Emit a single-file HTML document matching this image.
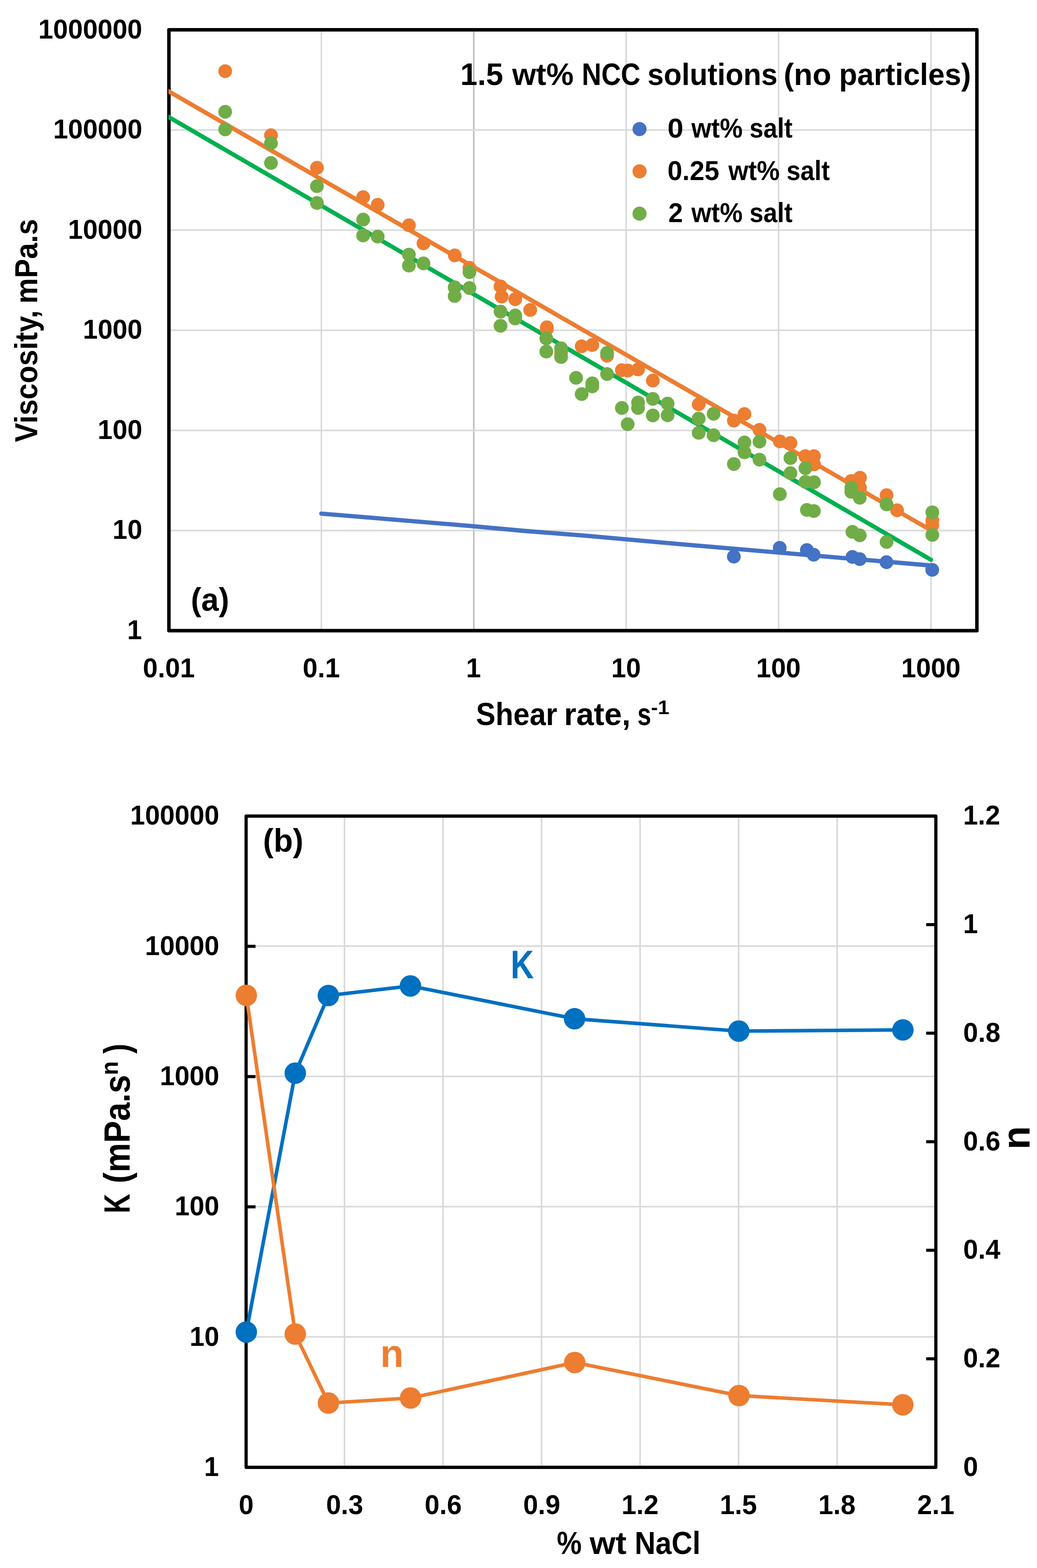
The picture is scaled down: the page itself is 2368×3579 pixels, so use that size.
<!DOCTYPE html>
<html lang="en">
<head>
<meta charset="utf-8">
<title>Viscosity of NCC solutions</title>
<style>
html,body{margin:0;padding:0;background:#fff;}
body{width:2368px;height:3579px;overflow:hidden;}
svg{display:block;}
svg text{font-family:"Liberation Sans", sans-serif;font-weight:700;white-space:pre;}
</style>
</head>
<body>
<svg role="img" aria-label="Viscosity versus shear rate for 1.5 wt% NCC solutions, and power-law parameters K and n versus NaCl concentration" width="2368" height="3579" viewBox="0 0 2368 3579">
<rect width="2368" height="3579" fill="#fff"/>
<g id="chart-a">
<line x1="733.76" y1="68.1" x2="733.76" y2="1439.6" stroke="#D9D9D9" stroke-width="3.5"/>
<line x1="1081.82" y1="68.1" x2="1081.82" y2="1439.6" stroke="#BFBFBF" stroke-width="3.6"/>
<line x1="1429.88" y1="68.1" x2="1429.88" y2="1439.6" stroke="#D9D9D9" stroke-width="3.5"/>
<line x1="1777.94" y1="68.1" x2="1777.94" y2="1439.6" stroke="#D9D9D9" stroke-width="3.5"/>
<line x1="2126.00" y1="68.1" x2="2126.00" y2="1439.6" stroke="#D9D9D9" stroke-width="3.5"/>
<line x1="385.7" y1="296.68" x2="2230.75" y2="296.68" stroke="#D9D9D9" stroke-width="3.5"/>
<line x1="385.7" y1="525.27" x2="2230.75" y2="525.27" stroke="#D9D9D9" stroke-width="3.5"/>
<line x1="385.7" y1="753.85" x2="2230.75" y2="753.85" stroke="#D9D9D9" stroke-width="3.5"/>
<line x1="385.7" y1="982.43" x2="2230.75" y2="982.43" stroke="#D9D9D9" stroke-width="3.5"/>
<line x1="385.7" y1="1211.02" x2="2230.75" y2="1211.02" stroke="#D9D9D9" stroke-width="3.5"/>
<rect x="385.7" y="68.1" width="1845.05" height="1371.50" fill="none" stroke="#000" stroke-width="8" stroke-linejoin="round"/>
<clipPath id="clipA"><rect x="384.6" y="68.1" width="1846.15" height="1371.50"/></clipPath>
<polyline points="733.75,1172.3 1072,1200.3 1200,1212.0 1330,1222.2 1560,1242.6 1880,1269.8 2128.5,1291.0" fill="none" stroke="#4472C4" stroke-width="9.8" stroke-linecap="round" stroke-linejoin="round"/>
<line x1="373.20" y1="201.69" x2="2126.2" y2="1210.6" stroke="#ED7D31" stroke-width="9.8" stroke-linecap="round" clip-path="url(#clipA)"/>
<line x1="373.20" y1="260.03" x2="2126.0" y2="1277.8" stroke="#00B050" stroke-width="9.8" stroke-linecap="round" clip-path="url(#clipA)"/>
<g fill="#4472C4"><circle cx="1675.75" cy="1270.5" r="15.7"/><circle cx="1780.5" cy="1250.5" r="15.7"/><circle cx="1842.5" cy="1255.5" r="15.7"/><circle cx="1858" cy="1266.25" r="15.7"/><circle cx="1946.5" cy="1271.25" r="15.7"/><circle cx="1963.25" cy="1276.25" r="15.7"/><circle cx="2024.25" cy="1283.25" r="15.7"/><circle cx="2128.75" cy="1300.75" r="15.7"/></g>
<g fill="#ED7D31"><circle cx="514.25" cy="162.5" r="15.7"/><circle cx="618.75" cy="308.75" r="15.7"/><circle cx="723.75" cy="383" r="15.7"/><circle cx="829.25" cy="450" r="15.7"/><circle cx="862.5" cy="467.5" r="15.7"/><circle cx="933.75" cy="514.25" r="15.7"/><circle cx="967" cy="555.5" r="15.7"/><circle cx="1038.5" cy="583" r="15.7"/><circle cx="1072" cy="611.25" r="15.7"/><circle cx="1143" cy="653.75" r="15.7"/><circle cx="1145.5" cy="677" r="15.7"/><circle cx="1176.5" cy="683" r="15.7"/><circle cx="1210.75" cy="707.5" r="15.7"/><circle cx="1248.75" cy="747" r="15.7"/><circle cx="1248.75" cy="751" r="15.7"/><circle cx="1281.25" cy="805" r="15.7"/><circle cx="1328.25" cy="790.5" r="15.7"/><circle cx="1352.5" cy="787.5" r="15.7"/><circle cx="1386.25" cy="812" r="15.7"/><circle cx="1420" cy="845" r="15.7"/><circle cx="1433.75" cy="845.75" r="15.7"/><circle cx="1457" cy="843.25" r="15.7"/><circle cx="1490.75" cy="868.75" r="15.7"/><circle cx="1595.5" cy="923" r="15.7"/><circle cx="1675.75" cy="960" r="15.7"/><circle cx="1700" cy="945" r="15.7"/><circle cx="1734.25" cy="981.25" r="15.7"/><circle cx="1780.75" cy="1007.5" r="15.7"/><circle cx="1805" cy="1011.25" r="15.7"/><circle cx="1838.75" cy="1041.25" r="15.7"/><circle cx="1858.75" cy="1041.25" r="15.7"/><circle cx="1858.75" cy="1060" r="15.7"/><circle cx="1943.75" cy="1098" r="15.7"/><circle cx="1963.75" cy="1090.5" r="15.7"/><circle cx="1963.75" cy="1113" r="15.7"/><circle cx="2024.5" cy="1130.25" r="15.7"/><circle cx="2048.5" cy="1164.75" r="15.7"/><circle cx="2129" cy="1187.5" r="15.7"/><circle cx="2129" cy="1198.75" r="15.7"/></g>
<g fill="#70AD47"><circle cx="514.2" cy="255.25" r="15.7"/><circle cx="514.2" cy="295.4" r="15.7"/><circle cx="618.75" cy="327" r="15.7"/><circle cx="618.75" cy="372" r="15.7"/><circle cx="723.75" cy="425" r="15.7"/><circle cx="723.75" cy="463.25" r="15.7"/><circle cx="829.25" cy="501.25" r="15.7"/><circle cx="829.25" cy="537.5" r="15.7"/><circle cx="862.5" cy="540" r="15.7"/><circle cx="933.75" cy="581.25" r="15.7"/><circle cx="933.75" cy="606.25" r="15.7"/><circle cx="967" cy="601.25" r="15.7"/><circle cx="1038.25" cy="655.75" r="15.7"/><circle cx="1038.25" cy="675.75" r="15.7"/><circle cx="1072" cy="621.25" r="15.7"/><circle cx="1072" cy="657.5" r="15.7"/><circle cx="1143" cy="711.25" r="15.7"/><circle cx="1143" cy="743.75" r="15.7"/><circle cx="1176.5" cy="720" r="15.7"/><circle cx="1176.5" cy="727" r="15.7"/><circle cx="1247.5" cy="772.5" r="15.7"/><circle cx="1247.5" cy="802.5" r="15.7"/><circle cx="1281.25" cy="795" r="15.7"/><circle cx="1281.25" cy="815" r="15.7"/><circle cx="1315.5" cy="862.5" r="15.7"/><circle cx="1328.25" cy="899.5" r="15.7"/><circle cx="1352.5" cy="875" r="15.7"/><circle cx="1352.5" cy="882" r="15.7"/><circle cx="1386.25" cy="805.5" r="15.7"/><circle cx="1386.25" cy="853.75" r="15.7"/><circle cx="1420" cy="931.25" r="15.7"/><circle cx="1433.25" cy="968.25" r="15.7"/><circle cx="1457" cy="918.75" r="15.7"/><circle cx="1457" cy="931.25" r="15.7"/><circle cx="1490.75" cy="910.5" r="15.7"/><circle cx="1490.75" cy="948.25" r="15.7"/><circle cx="1524.5" cy="921.25" r="15.7"/><circle cx="1524.5" cy="948" r="15.7"/><circle cx="1595.5" cy="955.5" r="15.7"/><circle cx="1595.5" cy="988" r="15.7"/><circle cx="1629.5" cy="944.5" r="15.7"/><circle cx="1629.5" cy="993.5" r="15.7"/><circle cx="1675.75" cy="1059.25" r="15.7"/><circle cx="1700" cy="1010" r="15.7"/><circle cx="1700" cy="1032.5" r="15.7"/><circle cx="1734.25" cy="1008" r="15.7"/><circle cx="1734.25" cy="1049.25" r="15.7"/><circle cx="1780.75" cy="1128" r="15.7"/><circle cx="1805" cy="1045.5" r="15.7"/><circle cx="1805" cy="1080" r="15.7"/><circle cx="1839.25" cy="1068.75" r="15.7"/><circle cx="1839.25" cy="1100" r="15.7"/><circle cx="1858.75" cy="1100.75" r="15.7"/><circle cx="1842.5" cy="1164" r="15.7"/><circle cx="1858.5" cy="1166.5" r="15.7"/><circle cx="1944" cy="1113.5" r="15.7"/><circle cx="1944" cy="1122.75" r="15.7"/><circle cx="1963.25" cy="1136.25" r="15.7"/><circle cx="1946.5" cy="1214" r="15.7"/><circle cx="1963.25" cy="1222" r="15.7"/><circle cx="2024.5" cy="1151.25" r="15.7"/><circle cx="2024.5" cy="1237" r="15.7"/><circle cx="2129" cy="1169.4" r="15.7"/><circle cx="2129" cy="1221" r="15.7"/></g>
<text transform="translate(87.47,87.50) scale(0.9800,1.0000)" font-size="62.20" fill="#000">1000000</text>
<text transform="translate(121.45,316.08) scale(0.9800,1.0000)" font-size="62.20" fill="#000">100000</text>
<text transform="translate(155.28,544.67) scale(0.9800,1.0000)" font-size="62.20" fill="#000">10000</text>
<text transform="translate(189.26,773.25) scale(0.9800,1.0000)" font-size="62.20" fill="#000">1000</text>
<text transform="translate(223.09,1001.83) scale(0.9800,1.0000)" font-size="62.20" fill="#000">100</text>
<text transform="translate(257.08,1230.42) scale(0.9800,1.0000)" font-size="62.20" fill="#000">10</text>
<text transform="translate(290.15,1459.00) scale(0.9800,1.0000)" font-size="62.20" fill="#000">1</text>
<text transform="translate(326.34,1545.60) scale(0.9800,1.0000)" font-size="62.20" fill="#000">0.01</text>
<text transform="translate(691.31,1545.60) scale(0.9800,1.0000)" font-size="62.20" fill="#000">0.1</text>
<text transform="translate(1064.14,1545.60) scale(0.9800,1.0000)" font-size="62.20" fill="#000">1</text>
<text transform="translate(1395.66,1545.60) scale(0.9800,1.0000)" font-size="62.20" fill="#000">10</text>
<text transform="translate(1726.73,1545.60) scale(0.9800,1.0000)" font-size="62.20" fill="#000">100</text>
<text transform="translate(2057.88,1545.60) scale(0.9800,1.0000)" font-size="62.20" fill="#000">1000</text>
<text transform="translate(1050.89,194.20) scale(0.9908,1.0000)" font-size="71.27">1.5</text>
<text transform="translate(1169.48,194.20) scale(0.9846,1.0000)" font-size="71.27">wt%</text>
<text transform="translate(1328.52,194.20) scale(0.8679,1.0000)" font-size="71.27">NCC</text>
<text transform="translate(1478.46,194.20) scale(0.9381,1.0000)" font-size="71.27">solutions</text>
<text transform="translate(1789.61,194.20) scale(0.9800,1.0000)" font-size="71.27">(no</text>
<text transform="translate(1916.09,194.20) scale(0.9510,1.0000)" font-size="71.27">particles)</text>
<circle cx="1460.4" cy="294.6" r="16.1" fill="#4472C4"/>
<text transform="translate(1524.19,314.40) scale(1.0492,1.0000)" font-size="62.20">0</text>
<text transform="translate(1578.65,314.40) scale(0.9418,1.0000)" font-size="62.20">wt%</text>
<text transform="translate(1711.40,314.40) scale(0.9176,1.0000)" font-size="62.20">salt</text>
<circle cx="1460.4" cy="391.0" r="16.1" fill="#ED7D31"/>
<text transform="translate(1524.37,411.00) scale(0.9753,1.0000)" font-size="62.20">0.25</text>
<text transform="translate(1663.15,411.00) scale(0.9418,1.0000)" font-size="62.20">wt%</text>
<text transform="translate(1795.89,411.00) scale(0.9243,1.0000)" font-size="62.20">salt</text>
<circle cx="1460.4" cy="487.6" r="16.1" fill="#70AD47"/>
<text transform="translate(1526.31,506.90) scale(0.9613,1.0000)" font-size="62.20">2</text>
<text transform="translate(1578.65,506.90) scale(0.9418,1.0000)" font-size="62.20">wt%</text>
<text transform="translate(1711.40,506.90) scale(0.9176,1.0000)" font-size="62.20">salt</text>
<text transform="translate(435.65,1393.60) scale(0.9721,1.0000)" font-size="74.00">(a)</text>
<text transform="translate(1087.10,1654.90) scale(0.9170,1.0000)" font-size="72.73">Shear</text>
<text transform="translate(1287.92,1654.90) scale(0.9896,1.0000)" font-size="72.73">rate,</text>
<text transform="translate(1455.42,1654.90) scale(0.7763,1.0000)" font-size="72.73">s</text>
<text transform="translate(1486.52,1630.20) scale(1.0461,1.0000)" font-size="45.00">-1</text>
<g transform="translate(85,1008.75) rotate(-90)">
<text transform="translate(-0.49,0.00) scale(0.9047,1.0000)" font-size="72.73">Viscosity,</text>
<text transform="translate(315.74,0.00) scale(0.9017,1.0000)" font-size="72.73">mPa.s</text>
</g>
</g>
<g id="chart-b">
<line x1="786.60" y1="1862.75" x2="786.60" y2="3349.25" stroke="#D9D9D9" stroke-width="3.6"/>
<line x1="1011.60" y1="1862.75" x2="1011.60" y2="3349.25" stroke="#D9D9D9" stroke-width="3.6"/>
<line x1="1236.60" y1="1862.75" x2="1236.60" y2="3349.25" stroke="#D9D9D9" stroke-width="3.6"/>
<line x1="1461.60" y1="1862.75" x2="1461.60" y2="3349.25" stroke="#D9D9D9" stroke-width="3.6"/>
<line x1="1686.60" y1="1862.75" x2="1686.60" y2="3349.25" stroke="#D9D9D9" stroke-width="3.6"/>
<line x1="1911.60" y1="1862.75" x2="1911.60" y2="3349.25" stroke="#D9D9D9" stroke-width="3.6"/>
<line x1="562.0" y1="2159.65" x2="2137.0" y2="2159.65" stroke="#D9D9D9" stroke-width="3.6"/>
<line x1="562.0" y1="2456.95" x2="2137.0" y2="2456.95" stroke="#D9D9D9" stroke-width="3.6"/>
<line x1="562.0" y1="2754.25" x2="2137.0" y2="2754.25" stroke="#D9D9D9" stroke-width="3.6"/>
<line x1="562.0" y1="3051.55" x2="2137.0" y2="3051.55" stroke="#D9D9D9" stroke-width="3.6"/>
<line x1="562.0" y1="2160.05" x2="583.5" y2="2160.05" stroke="#000" stroke-width="7"/>
<line x1="562.0" y1="2457.35" x2="583.5" y2="2457.35" stroke="#000" stroke-width="7"/>
<line x1="562.0" y1="2754.65" x2="583.5" y2="2754.65" stroke="#000" stroke-width="7"/>
<line x1="2137.0" y1="2110.50" x2="2115.0" y2="2110.50" stroke="#000" stroke-width="7"/>
<line x1="2137.0" y1="2358.25" x2="2115.0" y2="2358.25" stroke="#000" stroke-width="7"/>
<line x1="2137.0" y1="2606.00" x2="2115.0" y2="2606.00" stroke="#000" stroke-width="7"/>
<line x1="2137.0" y1="2853.75" x2="2115.0" y2="2853.75" stroke="#000" stroke-width="7"/>
<line x1="2137.0" y1="3101.50" x2="2115.0" y2="3101.50" stroke="#000" stroke-width="7"/>
<rect x="562.0" y="1862.75" width="1575.00" height="1486.50" fill="none" stroke="#000" stroke-width="7.3" stroke-linejoin="round"/>
<polyline points="562.5,3040.5 674.25,2449.5 749.8,2272.3 937.2,2250.5 1312.0,2325.3 1687.0,2353.5 2061.8,2350.8" fill="none" stroke="#0070C0" stroke-width="8.2" stroke-linejoin="round"/>
<g fill="#0070C0"><circle cx="562.5" cy="3040.5" r="24.5"/><circle cx="674.25" cy="2449.5" r="24.5"/><circle cx="749.8" cy="2272.3" r="24.5"/><circle cx="937.2" cy="2250.5" r="24.5"/><circle cx="1312.0" cy="2325.3" r="24.5"/><circle cx="1687.0" cy="2353.5" r="24.5"/><circle cx="2061.8" cy="2350.8" r="24.5"/></g>
<polyline points="562.5,2272 674.25,3045 750,3202.5 937.5,3191 1312.4,3110 1687.5,3185.4 2061.6,3206.5" fill="none" stroke="#ED7D31" stroke-width="8.2" stroke-linejoin="round"/>
<g fill="#ED7D31"><circle cx="562.5" cy="2272" r="24.5"/><circle cx="674.25" cy="3045" r="24.5"/><circle cx="750" cy="3202.5" r="24.5"/><circle cx="937.5" cy="3191" r="24.5"/><circle cx="1312.4" cy="3110" r="24.5"/><circle cx="1687.5" cy="3185.4" r="24.5"/><circle cx="2061.6" cy="3206.5" r="24.5"/></g>
<text transform="translate(297.25,1882.35) scale(0.9800,1.0000)" font-size="62.20" fill="#000">100000</text>
<text transform="translate(331.08,2179.65) scale(0.9800,1.0000)" font-size="62.20" fill="#000">10000</text>
<text transform="translate(365.06,2476.95) scale(0.9800,1.0000)" font-size="62.20" fill="#000">1000</text>
<text transform="translate(398.89,2774.25) scale(0.9800,1.0000)" font-size="62.20" fill="#000">100</text>
<text transform="translate(432.88,3071.55) scale(0.9800,1.0000)" font-size="62.20" fill="#000">10</text>
<text transform="translate(465.95,3368.85) scale(0.9800,1.0000)" font-size="62.20" fill="#000">1</text>
<text transform="translate(2199.19,1882.45) scale(0.9800,1.0000)" font-size="62.20" fill="#000">1.2</text>
<text transform="translate(2199.19,2130.20) scale(0.9800,1.0000)" font-size="62.20" fill="#000">1</text>
<text transform="translate(2199.56,2377.95) scale(0.9800,1.0000)" font-size="62.20" fill="#000">0.8</text>
<text transform="translate(2199.56,2625.70) scale(0.9800,1.0000)" font-size="62.20" fill="#000">0.6</text>
<text transform="translate(2199.56,2873.45) scale(0.9800,1.0000)" font-size="62.20" fill="#000">0.4</text>
<text transform="translate(2199.56,3121.20) scale(0.9800,1.0000)" font-size="62.20" fill="#000">0.2</text>
<text transform="translate(2199.56,3368.95) scale(0.9800,1.0000)" font-size="62.20" fill="#000">0</text>
<text transform="translate(545.28,3456.00) scale(0.9800,1.0000)" font-size="62.20" fill="#000">0</text>
<text transform="translate(744.68,3456.00) scale(0.9800,1.0000)" font-size="62.20" fill="#000">0.3</text>
<text transform="translate(969.68,3456.00) scale(0.9800,1.0000)" font-size="62.20" fill="#000">0.6</text>
<text transform="translate(1194.68,3456.00) scale(0.9800,1.0000)" font-size="62.20" fill="#000">0.9</text>
<text transform="translate(1419.15,3456.00) scale(0.9800,1.0000)" font-size="62.20" fill="#000">1.2</text>
<text transform="translate(1643.77,3456.00) scale(0.9800,1.0000)" font-size="62.20" fill="#000">1.5</text>
<text transform="translate(1868.85,3456.00) scale(0.9800,1.0000)" font-size="62.20" fill="#000">1.8</text>
<text transform="translate(2094.61,3456.00) scale(0.9800,1.0000)" font-size="62.20" fill="#000">2.1</text>
<text transform="translate(1271.40,3546.50) scale(0.8837,1.0000)" font-size="72.29">%</text>
<text transform="translate(1346.59,3546.50) scale(1.0488,1.0000)" font-size="72.29">wt</text>
<text transform="translate(1449.14,3546.50) scale(0.9134,1.0000)" font-size="72.29">NaCl</text>
<text transform="translate(600.59,1944.30) scale(0.9766,1.0000)" font-size="74.00">(b)</text>
<text transform="translate(1166.03,2232.50) scale(0.8101,1.0000)" font-size="90.91" fill="#0070C0">K</text>
<text transform="translate(868.30,3119.50) scale(0.9813,1.0000)" font-size="89.30" fill="#ED7D31">n</text>
<g transform="translate(296,2765.2) rotate(-90)">
<text transform="translate(-4.18,0.00) scale(0.7384,1.0000)" font-size="83.78">K</text>
<text transform="translate(64.12,0.00) scale(0.9013,1.0000)" font-size="83.78">(mPa.s</text>
<text transform="translate(311.24,-26.60) scale(0.9462,1.0000)" font-size="54.70">n</text>
<text transform="translate(360.13,0.00) scale(0.8185,1.0000)" font-size="83.78">)</text>
</g>
<g transform="translate(2351.2,2618) rotate(-90)">
<text transform="translate(-5.70,0.00) scale(0.9833,1.0000)" font-size="89.12">n</text>
</g>
</g>
</svg>
</body>
</html>
